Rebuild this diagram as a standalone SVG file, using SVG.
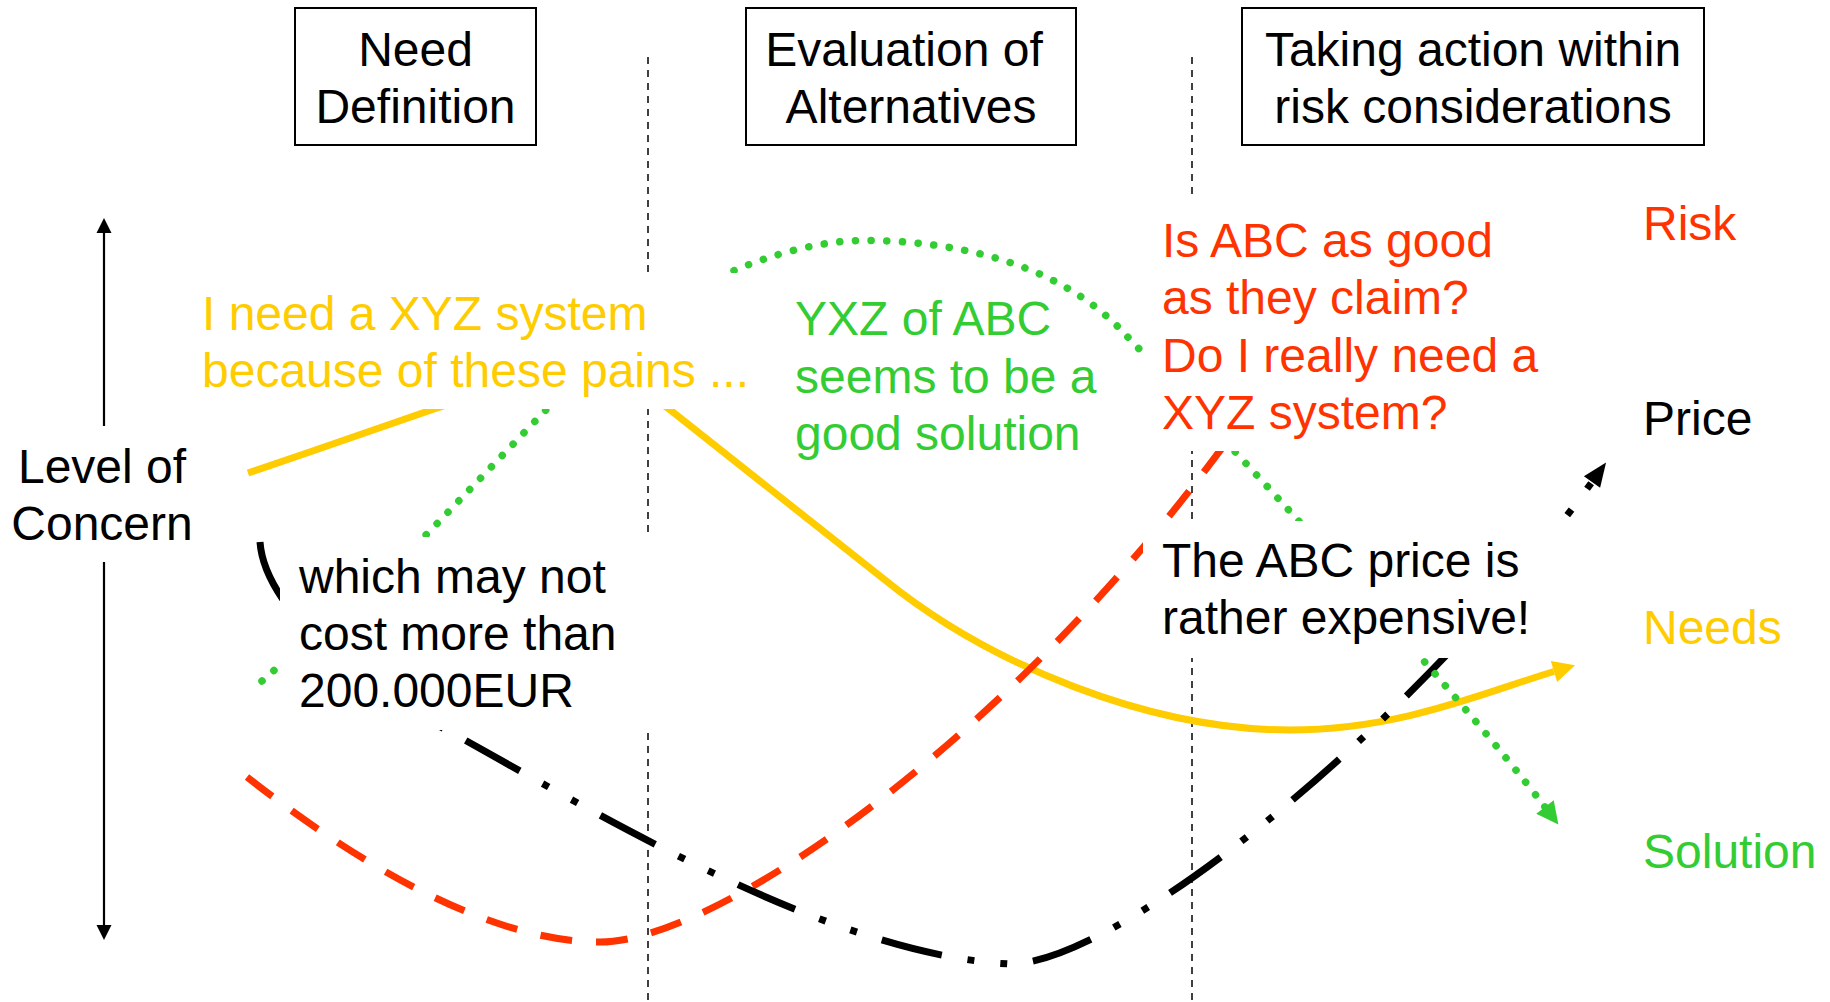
<svg xmlns="http://www.w3.org/2000/svg" width="1830" height="1002" viewBox="0 0 1830 1002">
<style>
  text { font-family: "Liberation Sans", Arial, sans-serif; font-size: 48px; }
  .hdr { fill: #fff; stroke: #000; stroke-width: 2; }
  .c { text-anchor: middle; }
  .mask { fill: #fff; stroke: none; }
  .sep { stroke: #000; stroke-width: 1.5; stroke-dasharray: 7 6; fill: none; }
  .y { fill: #FFCC00; }
  .g { fill: #33CC33; }
  .r { fill: #FF3300; }
  .k { fill: #000; }
  .axis { fill: none; stroke: #000; stroke-width: 2.2; }
  .needs { fill: none; stroke: #FFCC00; stroke-width: 7; }
  .risk { fill: none; stroke: #FF3300; stroke-width: 7; stroke-dasharray: 32 24; }
  .price { fill: none; stroke: #000; stroke-width: 7; stroke-linejoin: bevel; stroke-dasharray: 62 26 7 26 7 26; }
  .sol { fill: none; stroke: #33CC33; stroke-width: 7.5; stroke-linecap: round; stroke-dasharray: 0.1 15.6; }
</style>
<defs>
  <marker id="aS" markerUnits="userSpaceOnUse" markerWidth="20" markerHeight="20" refX="0" refY="0" orient="auto-start-reverse" overflow="visible"><path d="M0,-7.5 L15,0 L0,7.5 z" fill="#000"/></marker>
  <marker id="aY" markerUnits="userSpaceOnUse" markerWidth="30" markerHeight="30" refX="0" refY="0" orient="auto" overflow="visible"><path d="M0,-11 L22,0 L0,11 z" fill="#FFCC00"/></marker>
  <marker id="aK" markerUnits="userSpaceOnUse" markerWidth="30" markerHeight="30" refX="0" refY="0" orient="auto" overflow="visible"><path d="M0,-10 L24,0 L0,10 z" fill="#000"/></marker>
  <marker id="aG" markerUnits="userSpaceOnUse" markerWidth="30" markerHeight="30" refX="0" refY="0" orient="auto" overflow="visible"><path d="M0,-11 L22,0 L0,11 z" fill="#33CC33"/></marker>
</defs>

<g id="separators">
  <line class="sep" x1="648" y1="57" x2="648" y2="1002"/>
  <line class="sep" x1="1192" y1="57" x2="1192" y2="1002"/>
</g>

<g id="connectors">
  <path id="axis" class="axis" d="M104,233 L104,925" marker-start="url(#aS)" marker-end="url(#aS)"/>
  <path id="needs-line" class="needs" marker-end="url(#aY)" d="M248,473 C310,452 380,428 434,409 C494,389 619,369 669,409 L885,580 C990,665 1150,730 1290,730 C1400,730 1484,692.5 1554,671.5"/>
  <path id="risk-line" class="risk" d="M247,777 C340,850 480,942 600,942 C720,942 1020,730 1235,430"/>
  <path id="price-line" class="price" marker-end="url(#aK)" d="M260,542 C262.5,578.5 292.5,618 330.25,652.125 l6,0 l-6,0 C368,686.25 413.5,715 447,730 C600,815 830,955 1010,964 C1120,964 1420,720 1592,482"/>
  <path id="solution-line" class="sol" marker-end="url(#aG)" d="M262,681 C320,630 380,580 430,531 L541,415 C600,354 680,295 733,271 C770,255 820,240.5 864,240.5 C960,240.5 1060,265 1123,332 C1230,445 1445,676 1545,807"/>
</g>

<g id="phase-need">
  <rect class="hdr" x="295" y="8" width="241" height="137"/>
  <text class="c k" x="415.5" y="65.7">Need</text>
  <text class="c k" x="415.5" y="122.7">Definition</text>
</g>
<g id="phase-evaluation">
  <rect class="hdr" x="746" y="8" width="330" height="137"/>
  <text class="c k" x="904" y="65.7">Evaluation of</text>
  <text class="c k" x="911" y="122.7">Alternatives</text>
</g>
<g id="phase-action">
  <rect class="hdr" x="1242" y="8" width="462" height="137"/>
  <text class="c k" x="1473" y="65.7">Taking action within</text>
  <text class="c k" x="1473" y="122.7">risk considerations</text>
</g>

<g id="axis-label">
  <rect class="mask" x="10" y="426" width="188" height="136"/>
  <text class="c k" x="102" y="482.5">Level of</text>
  <text class="c k" x="102" y="539.5">Concern</text>
</g>

<g id="note-need">
  <rect class="mask" x="195" y="273" width="562" height="136"/>
  <text class="y" x="202" y="330">I need a XYZ system</text>
  <text class="y" x="202" y="387">because of these pains ...</text>
</g>

<g id="note-budget">
  <rect class="mask" x="280" y="537" width="382" height="193"/>
  <text class="k" x="299" y="592.7">which may not</text>
  <text class="k" x="299" y="650">cost more than</text>
  <text class="k" x="299" y="707.3">200.000EUR</text>
</g>

<g id="note-solution">
  <text class="g" x="795" y="335">YXZ of ABC</text>
  <text class="g" x="795" y="392.5">seems to be a</text>
  <text class="g" x="795" y="450">good solution</text>
</g>

<g id="note-risk">
  <rect class="mask" x="1143" y="200" width="407" height="251"/>
  <text class="r" x="1162" y="256.7">Is ABC as good</text>
  <text class="r" x="1162" y="314">as they claim?</text>
  <text class="r" x="1162" y="371.7">Do I really need a</text>
  <text class="r" x="1162" y="429">XYZ system?</text>
</g>

<g id="note-price">
  <rect class="mask" x="1143" y="521" width="422" height="137"/>
  <text class="k" x="1162" y="576.7">The ABC price is</text>
  <text class="k" x="1162" y="634">rather expensive!</text>
</g>

<g id="legend-risk"><text class="r" x="1643" y="240">Risk</text></g>
<g id="legend-price"><text class="k" x="1643" y="435">Price</text></g>
<g id="legend-needs"><text class="y" x="1643" y="644">Needs</text></g>
<g id="legend-solution"><text class="g" x="1643" y="867.5">Solution</text></g>
</svg>
